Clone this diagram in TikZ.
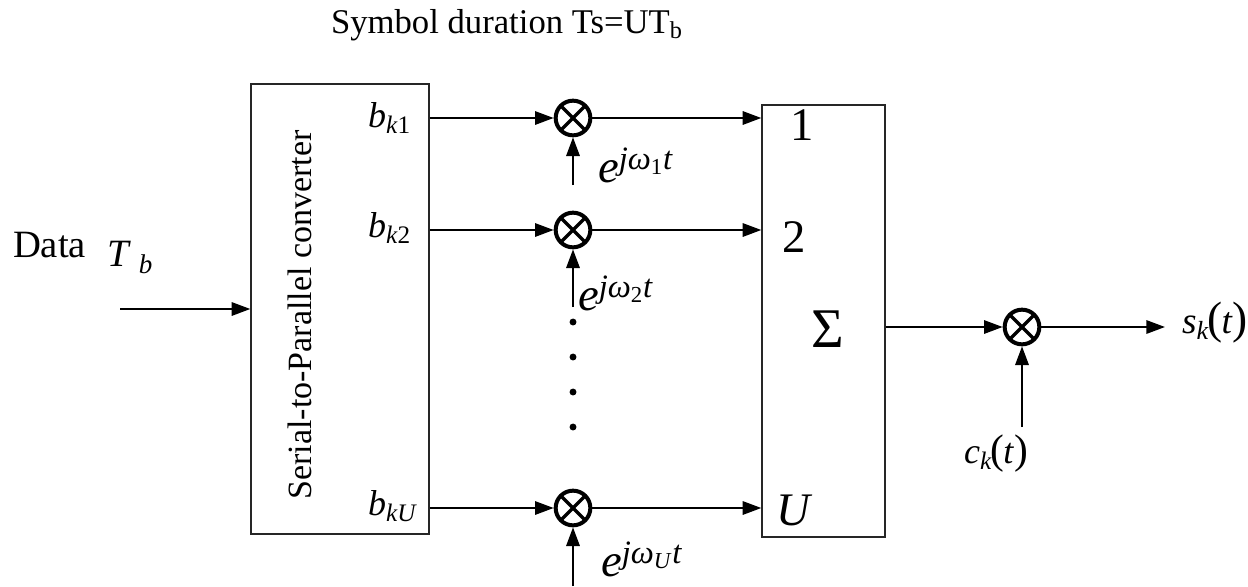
\documentclass[tikz,border=0pt]{standalone}
\usepackage{fontspec}
\setmainfont{Liberation Serif}
\usetikzlibrary{arrows.meta}
\newcommand{\fsz}[1]{\fontsize{#1}{#1}\selectfont}

\tikzset{every picture/.style={line width=1.6pt}}
\tikzset{
  arr/.style={-{Triangle[length=14pt,width=10pt]}},
  blockbox/.style={draw=black!85, line width=1pt, inner sep=0pt},
  mixer/.style={circle, draw, line width=3pt, minimum size=26pt, inner sep=0pt,
    path picture={\draw[line width=2.6pt]
      (path picture bounding box.north west) -- (path picture bounding box.south east)
      (path picture bounding box.north east) -- (path picture bounding box.south west);}},
  lbl/.style={inner sep=0pt, anchor=base west}
}

\begin{document}
\begin{tikzpicture}[x=0.75pt,y=0.75pt,yscale=-1,xscale=1]
\useasboundingbox (0,0) rectangle (1248,586);

%Shape: Rectangle [serial-to-parallel]
\node (sp) [blockbox, minimum width=133.5pt, minimum height=337.5pt] at (340,309) {};
%Shape: Rectangle [sum]
\node (sum) [blockbox, minimum width=92.25pt, minimum height=324pt] at (823.5,321) {};

%Shape: Circle [mixers]
\node (m1) [mixer] at (573,118) {};
\node (m2) [mixer] at (573,230) {};
\node (mU) [mixer] at (573,508) {};
\node (mc) [mixer] at (1022,327) {};

% free ends
\coordinate (din) at (120,309);
\coordinate (e1) at (573,185);
\coordinate (e2) at (573,307);
\coordinate (eU) at (573,586);
\coordinate (cin) at (1022,427);

% dots
\foreach \y in {322,357,392,427} \fill (573,\y) circle (2.6pt);

% Text Node
\node (title) [lbl, font=\fsz{26}] at (330,33) {Symbol duration Ts=UT\textsubscript{b}};
% Text Node
\node (data) [lbl, font=\fsz{29}] at (12,257) {Data};
% Text Node
\node (tb) [lbl, font=\fsz{29}] at (106,266) {\textit{T}\hspace{6pt}\textsubscript{\textit{b}}};
% Text Node
\node (sptxt) [rotate=90, font=\fsz{25.5}] at (300,315) {Serial-to-Parallel converter};
% Text Node
\node (bk1) [lbl, font=\fsz{27}] at (367,127) {\textit{b}\textsubscript{\textit{k}1}};
\node (bk2) [lbl, font=\fsz{27}] at (367,237) {\textit{b}\textsubscript{\textit{k}2}};
\node (bkU) [lbl, font=\fsz{27}] at (367,515) {\textit{b}\textsubscript{\textit{kU}}};
% Text Node
\node (ex1) [lbl, font=\fsz{35}] at (597,182) {\textit{e}\textsuperscript{\textit{jω}\textsubscript{1}\textit{t}}};
\node (ex2) [lbl, font=\fsz{35}] at (577,310) {\textit{e}\textsuperscript{\textit{jω}\textsubscript{2}\textit{t}}};
\node (exU) [lbl, font=\fsz{35}] at (600,576) {\textit{e}\textsuperscript{\textit{jω}\textsubscript{\textit{U}}\textit{t}}};
% Text Node
\node (in1) [lbl, font=\fsz{35}] at (789,140) {1};
\node (in2) [lbl, font=\fsz{35}] at (781,252) {2};
\node (inU) [lbl, font=\fsz{35}] at (775,525) {\textit{U}};
\node (sig) [lbl, font=\fsz{42}] at (810,347) {Σ};
% Text Node
\node (sk) [lbl, font=\fsz{28}] at (1181,333) {\textit{s}\textsubscript{\textit{k}}\kern-1pt{\fsz{34}(}\kern-1pt\textit{t}{\fsz{34})}};
\node (ck) [lbl, font=\fsz{27}] at (963,463) {\textit{c}\textsubscript{\textit{k}}\kern-1pt{\fsz{31}(}\kern-1pt\textit{t}{\fsz{31})}};

% connectors
\draw[arr] (din) -- (sp.west);
\draw[arr] (m1 -| sp.east) -- (m1);
\draw[arr] (m2 -| sp.east) -- (m2);
\draw[arr] (mU -| sp.east) -- (mU);
\draw[arr] (e1) -- (m1);
\draw[arr] (e2) -- (m2);
\draw[arr] (eU) -- (mU);
\draw[arr] (m1) -- (m1 -| sum.west);
\draw[arr] (m2) -- (m2 -| sum.west);
\draw[arr] (mU) -- (mU -| sum.west);
\draw[arr] (sum.east |- mc) -- (mc);
\draw[arr] (mc) -- ([xshift=-12pt]mc -| sk.west);
\draw[arr] (cin) -- (mc);

\end{tikzpicture}
\end{document}
